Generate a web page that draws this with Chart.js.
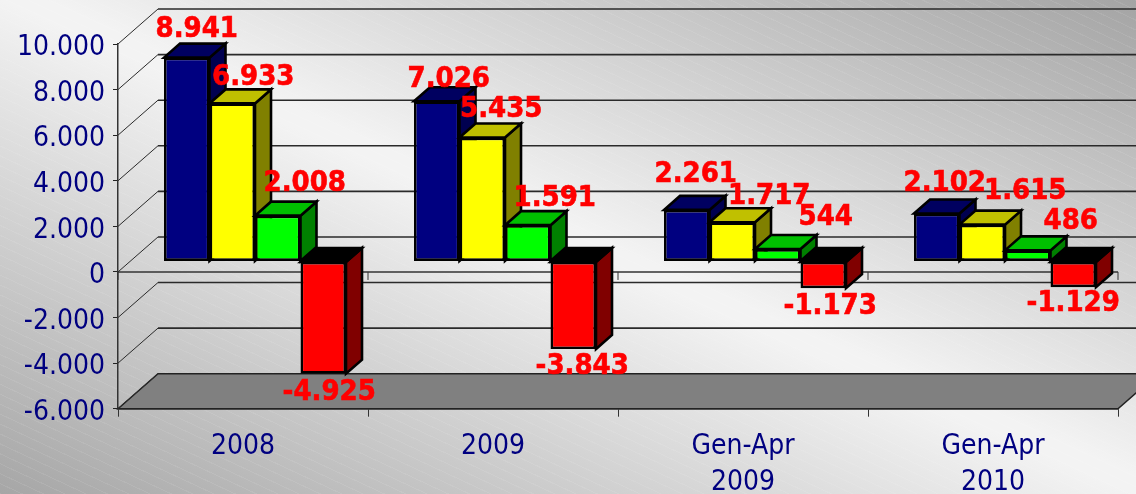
<!DOCTYPE html>
<html>
<head>
<meta charset="utf-8">
<script src="https://cdn.jsdelivr.net/npm/chart.js@4"></script>
<style>
html,body{margin:0;padding:0;width:1136px;height:494px;overflow:hidden;}
body{background:
  repeating-linear-gradient(25deg, rgba(255,255,255,.08) 0 1px, rgba(255,255,255,0) 1px 9px),
  linear-gradient(to top right,#a6a6a6 0%,#f3f3f3 50%,#f3f3f3 52%,#a4a4a4 100%);}
canvas{display:block;}
</style>
</head>
<body>
<canvas id="c" width="1136" height="494"></canvas>
<script>
const categories = ['2008', '2009', ['Gen-Apr', '2009'], ['Gen-Apr', '2010']];
const seriesNames = ['A', 'B', 'C', 'D'];
const blueValues = [8941, 7026, 2261, 2102];
const yellowValues = [6933, 5435, 1717, 1615];
const greenValues = [2008, 1591, 544, 486];
const redValues = [-4925, -3843, -1173, -1129];

const NAVY = '#000080';
const FONT = '"DejaVu Sans Condensed","DejaVu Sans",sans-serif';
const WALL = {dx: 40, dy: -35};     // perspective of the chart box
const BAR_SHIFT = {dx: 12, dy: -10.5}; // where bars stand inside the box
const BAR_DEPTH = {dx: 16, dy: -14};
const GRID = '#2a2a2a';
const EDGE = 2.6;

// label nudges relative to each bar's tip: [dataset][category] => [dx, dy]
const labelNudges = [
  [[10,-28],[12,-22],[9,-35],[8,-30]],
  [[21,-26],[19,-28],[37,-26],[43,-33]],
  [[27,-32],[27,-27],[48,-32],[43,-29]],
  [[6,19],[9,17],[7,18],[0,16]]
];

const fmt = v => String(Math.abs(v)).replace(/\B(?=(\d{3})+$)/g, '.');
const signed = v => (v < 0 ? '-' : '') + fmt(v);

function poly(ctx, pts, fill, stroke, lw) {
  ctx.beginPath();
  pts.forEach((p, i) => i ? ctx.lineTo(p[0], p[1]) : ctx.moveTo(p[0], p[1]));
  ctx.closePath();
  if (fill) { ctx.fillStyle = fill; ctx.fill(); }
  if (stroke) { ctx.strokeStyle = stroke; ctx.lineWidth = lw; ctx.lineJoin = 'miter'; ctx.stroke(); }
}

function drawBox(chart) {
  const {ctx, scales: {x, y}} = chart;
  const L = x.left, R = x.right;
  const d = WALL;
  ctx.save();
  const by = y.getPixelForValue(y.min);
  poly(ctx, [[L,by],[L+d.dx,by+d.dy],[R+d.dx,by+d.dy],[R,by]], '#808080', '#222', 1.5);
  y.ticks.forEach(t => {
    const py = y.getPixelForValue(t.value);
    ctx.strokeStyle = GRID;
    ctx.lineWidth = 1;
    ctx.beginPath(); ctx.moveTo(L, py); ctx.lineTo(L+d.dx, py+d.dy); ctx.stroke();
    if (t.value !== y.min) {
      ctx.lineWidth = 1.6;
      ctx.beginPath(); ctx.moveTo(L+d.dx, py+d.dy); ctx.lineTo(R+d.dx, py+d.dy); ctx.stroke();
    }
  });
  const zy = y.getPixelForValue(0);
  ctx.strokeStyle = '#333';
  ctx.lineWidth = 1.6;
  ctx.beginPath(); ctx.moveTo(L, zy); ctx.lineTo(R, zy); ctx.stroke();
  ctx.lineWidth = 1;
  for (let i = 0; i <= categories.length; i++) {
    const px = L + (R - L) * i / categories.length;
    ctx.beginPath(); ctx.moveTo(px, zy); ctx.lineTo(px, zy + 8); ctx.stroke();
  }
  ctx.restore();
}

const box3d = {
  id: 'box3d',
  // Bars are drawn here, first series first, so each one overlaps the depth of its left neighbour.
  beforeDatasetsDraw(chart) {
    const {ctx} = chart;
    drawBox(chart);
    const d = BAR_DEPTH;
    chart.data.datasets.forEach((ds, i) => {
      const meta = chart.getDatasetMeta(i);
      ctx.save();
      ctx.translate(BAR_SHIFT.dx, BAR_SHIFT.dy);
      meta.data.forEach(b => {
        const l = b.x - b.width/2, r = b.x + b.width/2;
        const t = Math.min(b.y, b.base), u = Math.max(b.y, b.base);
        poly(ctx, [[r,t],[r+d.dx,t+d.dy],[r+d.dx,u+d.dy],[r,u]], ds.sideColor, '#000', EDGE);
        poly(ctx, [[l,t],[l+d.dx,t+d.dy],[r+d.dx,t+d.dy],[r,t]], ds.topColor, '#000', EDGE);
      });
      meta.controller.draw();
      ctx.restore();
    });
    ctx.save();
    ctx.font = 'bold 29px ' + FONT;
    ctx.fillStyle = '#ff0000';
    ctx.strokeStyle = '#ff0000';
    ctx.lineWidth = 0.6;
    ctx.textAlign = 'center';
    ctx.textBaseline = 'middle';
    chart.data.datasets.forEach((ds, i) => {
      chart.getDatasetMeta(i).data.forEach((b, j) => {
        const n = labelNudges[i][j];
        const tx = b.x + BAR_SHIFT.dx + n[0], ty = b.y + BAR_SHIFT.dy + n[1];
        ctx.fillText(signed(ds.data[j]), tx, ty);
        ctx.strokeText(signed(ds.data[j]), tx, ty);
      });
    });
    ctx.restore();
    return false;
  }
};

function series(i, data, color, top, side) {
  return {label: seriesNames[i], data, backgroundColor: color, borderColor: '#000', borderWidth: EDGE,
          borderSkipped: false, topColor: top, sideColor: side};
}

new Chart(document.getElementById('c'), {
  type: 'bar',
  plugins: [box3d],
  data: {
    labels: categories,
    datasets: [
      series(0, blueValues, '#000080', '#000060', '#000050'),
      series(1, yellowValues, '#ffff00', '#c0c000', '#808000'),
      series(2, greenValues, '#00ff00', '#00c000', '#008000'),
      series(3, redValues, '#ff0000', '#000000', '#800000')
    ]
  },
  options: {
    responsive: false,
    animation: false,
    layout: {padding: {top: 44, right: 18, left: 0, bottom: 0}},
    plugins: {legend: {display: false}, tooltip: {enabled: false}, title: {display: false}},
    datasets: {bar: {categoryPercentage: 0.728, barPercentage: 1}},
    scales: {
      x: {
        grid: {drawOnChartArea: false, drawTicks: true, tickLength: 8, color: '#333', offset: true},
        border: {color: '#222', width: 1.5},
        afterFit(s) { s.height = 85.3; },
        ticks: {color: NAVY, padding: 12, maxRotation: 0, autoSkip: false,
                font: {family: FONT, size: 28, lineHeight: 1.28}}
      },
      y: {
        min: -6000, max: 10000,
        grid: {drawOnChartArea: false, drawTicks: true, tickLength: 5, color: '#222'},
        border: {color: '#333', width: 1.5},
        afterFit(s) { s.width = 118; },
        ticks: {color: NAVY, stepSize: 2000, padding: 8, labelOffset: 4, callback: v => signed(v),
                font: {family: FONT, size: 28}}
      }
    }
  }
});
</script>
</body>
</html>
